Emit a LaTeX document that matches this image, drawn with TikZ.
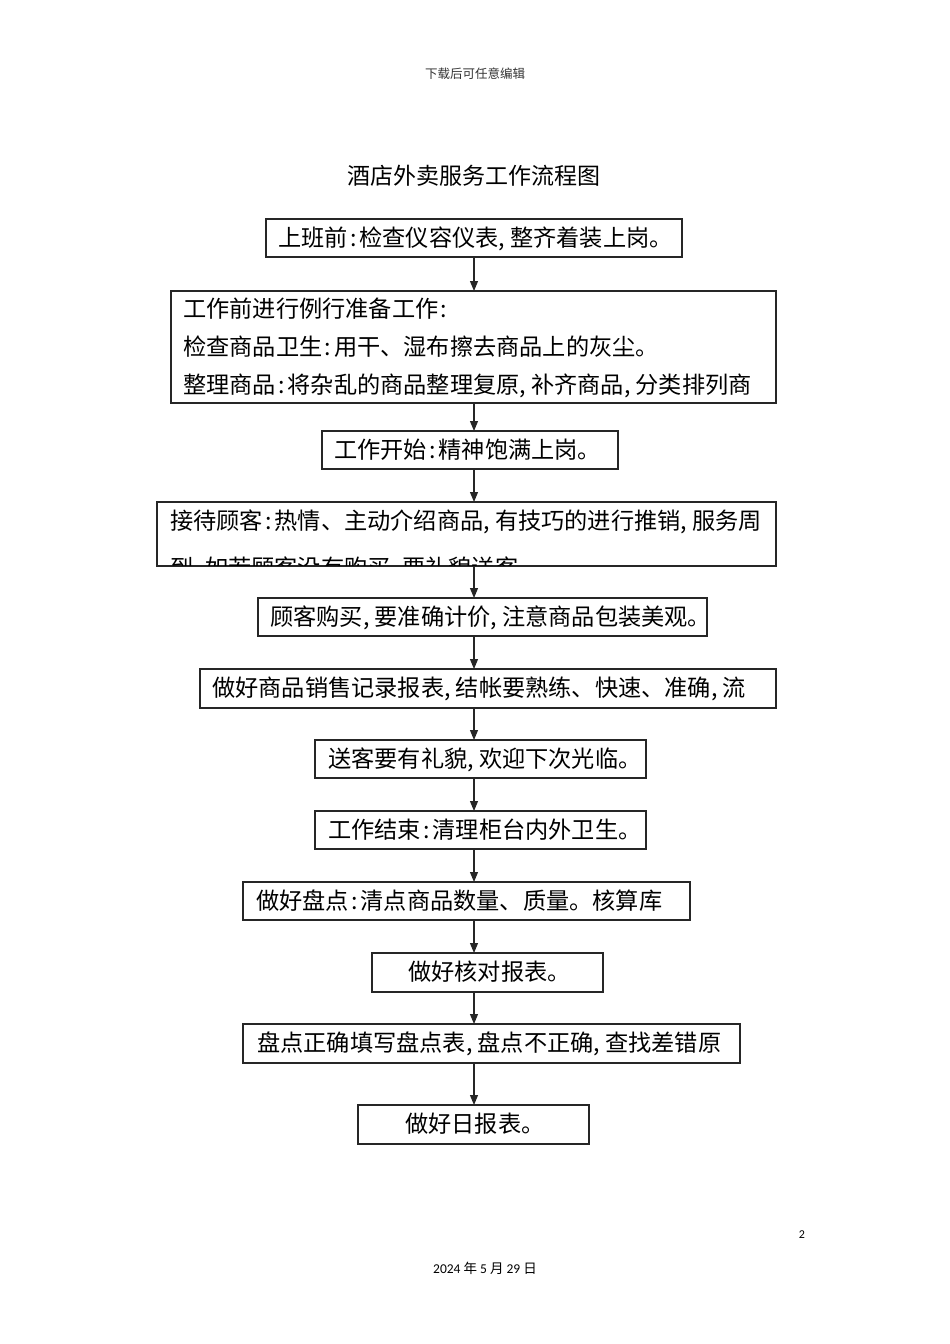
\documentclass[tikz,border=0pt]{standalone}
\usepackage{fontspec}
\usetikzlibrary{arrows.meta}
\newfontfamily\cjk{Noto Sans CJK SC}
\newfontfamily\numf{Carlito}
\newcommand{\co}{\makebox[0.5em][c]{:}}
\newcommand{\cm}{\makebox[0.5em][l]{,}}
\tikzset{
  box/.style={draw=black!85, line width=1.2pt, rectangle, inner sep=0pt, outer sep=0pt},
  txt/.style={anchor=west, inner sep=0pt, yshift=-4.5pt, font=\cjk\fontsize{23.2}{28}\selectfont, text height=0.86em, text depth=0.1em},
  arr/.style={draw=black!85, line width=1.1pt, -{Triangle[width=8pt,length=10pt]}}
}
\newcommand{\bx}[5]{\node[box, minimum width={#4-#2}, minimum height={#5-#3}] (#1) at ({(#2+#4)/2},{(#3+#5)/2}) {};}
\begin{document}
\begin{tikzpicture}[x=1pt,y=-1pt]
\useasboundingbox (0,0) rectangle (950,1344);
\node[inner sep=0pt, font=\cjk\fontsize{12.5}{15}\selectfont, text=black!80] (hdr) at (475,74) {下载后可任意编辑};
\node[inner sep=0pt, font=\cjk\fontsize{23}{28}\selectfont] (title) at (474,176) {酒店外卖服务工作流程图};
\coordinate (ax) at (474,0);
\bx{b1}{266}{219}{682}{257}
\bx{b2}{171}{291}{776}{403}
\bx{b3}{322}{431}{618}{469}
\bx{b4}{157}{502}{776}{566}
\bx{b5}{258}{598}{707}{636}
\bx{b6}{200}{669}{776}{708}
\bx{b7}{315}{740}{646}{778}
\bx{b8}{315}{811}{646}{849}
\bx{b9}{243}{882}{690}{920}
\bx{b10}{372}{953}{603}{992}
\bx{b11}{243}{1024}{740}{1063}
\bx{b12}{358}{1105}{589}{1144}
\node[txt] (t1) at (278,238) {上班前\co 检查仪容仪表\cm 整齐着装上岗。};
\node[txt] (t2a) at (183,309) {工作前进行例行准备工作\co};
\node[txt] (t2b) at (183,347) {检查商品卫生\co 用干、湿布擦去商品上的灰尘。};
\node[txt] (t2c) at (183,385) {整理商品\co 将杂乱的商品整理复原\cm 补齐商品\cm 分类排列商};
\node[txt] (t3) at (334,450) {工作开始\co 精神饱满上岗。};
\begin{scope}
\clip (158,503) rectangle (775,565);
\node[txt] (t4a) at (170,521) {接待顾客\co 热情、主动介绍商品\cm 有技巧的进行推销\cm 服务周};
\node[txt] (t4b) at (170,568) {到\cm 如若顾客没有购买\cm 要礼貌送客。};
\end{scope}
\node[txt] (t5) at (270,617) {顾客购买\cm 要准确计价\cm 注意商品包装美观。};
\node[txt] (t6) at (212,688) {做好商品销售记录报表\cm 结帐要熟练、快速、准确\cm 流};
\node[txt] (t7) at (328,759) {送客要有礼貌\cm 欢迎下次光临。};
\node[txt] (t8) at (328,830) {工作结束\co 清理柜台内外卫生。};
\node[txt] (t9) at (256,901) {做好盘点\co 清点商品数量、质量。核算库};
\node[txt] (t10) at (408,972) {做好核对报表。};
\node[txt] (t11) at (257,1043) {盘点正确填写盘点表\cm 盘点不正确\cm 查找差错原};
\node[txt] (t12) at (405,1124) {做好日报表。};
\foreach \a/\b in {b1/b2,b2/b3,b3/b4,b4/b5,b5/b6,b6/b7,b7/b8,b8/b9,b9/b10,b10/b11,b11/b12}
  \draw[arr] (\a.south -| ax) -- (\b.north -| ax);
\node[inner sep=0pt, font=\numf\fontsize{12}{14}\selectfont] (pg) at (802,1235) {2};
\node[inner sep=0pt, font=\numf\fontsize{13.5}{16}\selectfont] (date) at (485,1268) {2024 {\cjk 年} 5 {\cjk 月} 29 {\cjk 日}};
\end{tikzpicture}
\end{document}
